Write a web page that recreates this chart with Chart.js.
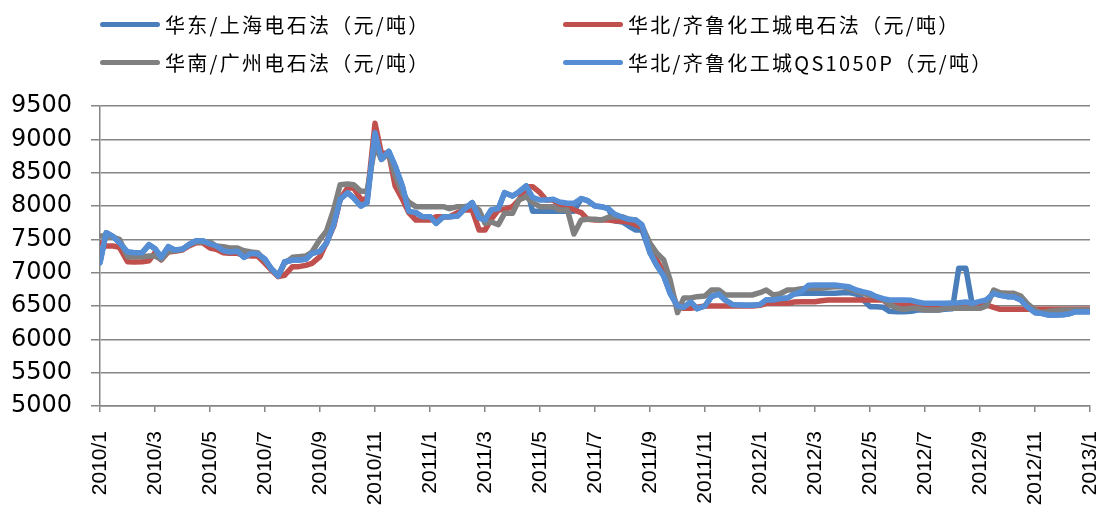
<!DOCTYPE html>
<html>
<head>
<meta charset="utf-8">
<script src="https://cdn.jsdelivr.net/npm/chart.js@4/dist/chart.umd.min.js"></script>
<style>
  html, body { margin: 0; padding: 0; background: #fff; }
  #wrap { position: relative; width: 1118px; height: 505px; }
  .legend-item { position: absolute; height: 40px; display: flex; align-items: center;
    font-family: "Noto Sans CJK SC", sans-serif; font-size: 20px; letter-spacing: 2.3px; color: #000; white-space: nowrap; }
  .legend-item .swatch { display: inline-block; width: 60px; height: 5px; border-radius: 3px; margin-right: 5px; }
</style>
</head>
<body>
<div id="wrap">
  <canvas id="chart" width="1118" height="505"></canvas>
</div>
<script>
// Sampling grid: roughly weekly price quotes, 2010/1 .. 2013/1
const sampleDays = [1, 8, 16, 23];
const startYear = 2010;
const monthCount = 36;

// Series names (legend order: row 1 left, row 1 right, row 2 left, row 2 right)
const seriesNames = [
  '华东/上海电石法（元/吨）',
  '华北/齐鲁化工城电石法（元/吨）',
  '华南/广州电石法（元/吨）',
  '华北/齐鲁化工城QS1050P（元/吨）'
];

// 华东/上海电石法
const huadong = [
  7150, 7600, 7540, 7450, 7310, 7300, 7300, 7420, 7360, 7230,
  7390, 7340, 7350, 7420, 7480, 7480, 7430, 7400, 7330, 7310,
  7320, 7230, 7290, 7280, 7200, 7060, 6950, 7160, 7190, 7190,
  7200, 7290, 7320, 7440, 7720, 8100, 8200, 8120, 8000, 8050,
  9100, 8700, 8820, 8600, 8290, 7920, 7900, 7840, 7840, 7740,
  7840, 7840, 7850, 7950, 8050, 7820, 7790, 7940, 7960, 8200,
  8150, 8210, 8300, 7920, 7920, 7920, 7920, 7920, 7920, 7920,
  8110, 8080, 8000, 7990, 7960, 7780, 7760, 7700, 7640, 7640,
  7300, 7120, 6950, 6690, 6500, 6480, 6560, 6460, 6500, 6640,
  6680, 6590, 6520, 6515, 6510, 6510, 6520, 6590, 6590, 6610,
  6620, 6680, 6690, 6690, 6690, 6690, 6690, 6690, 6700, 6700,
  6680, 6600, 6490, 6490, 6480, 6420, 6415, 6415, 6420, 6440,
  6440, 6440, 6440, 6450, 6460, 7065, 7065, 6540, 6540, 6590,
  6690, 6660, 6640, 6640, 6590, 6490, 6400, 6390, 6365, 6365,
  6370, 6380, 6415, 6415, 6415
];

// 华北/齐鲁化工城电石法
const huabei = [
  7450, 7400, 7400, 7380, 7165, 7160, 7165, 7180, 7300, 7190,
  7310, 7320, 7340, 7400, 7450, 7450, 7370, 7350, 7300, 7290,
  7290, 7260, 7250, 7250, 7140, 7040, 6940, 6960, 7090, 7090,
  7110, 7140, 7240, 7450, 7700, 8100, 8270, 8270, 8100, 8100,
  9240, 8790, 8790, 8300, 8100, 7900, 7790, 7790, 7790, 7840,
  7840, 7840, 7900, 7940, 7940, 7640, 7640, 7800, 7940, 7950,
  7990, 8090, 8290, 8290, 8200, 8090, 8090, 8000, 8000, 7940,
  7900, 7800, 7790, 7790, 7790, 7780, 7770, 7760, 7720, 7680,
  7400, 7200, 7000, 6790, 6480, 6465, 6465, 6480, 6500, 6500,
  6500, 6500, 6500, 6500, 6500, 6500, 6510, 6540, 6540, 6540,
  6540, 6560, 6565, 6565, 6565, 6580, 6590, 6590, 6590, 6590,
  6590, 6590, 6590, 6590, 6590, 6515, 6515, 6515, 6515, 6515,
  6515, 6515, 6515, 6515, 6515, 6515, 6515, 6515, 6515, 6515,
  6480, 6450, 6450, 6450, 6450, 6450, 6450, 6450, 6450, 6450,
  6450, 6450, 6450, 6450, 6450
];

// 华南/广州电石法
const huanan = [
  7550, 7550, 7530, 7500, 7240, 7240, 7240, 7250, 7250, 7200,
  7320, 7330, 7350, 7420, 7460, 7460, 7460, 7400, 7390, 7370,
  7370, 7330, 7310, 7300, 7180, 7060, 6960, 7140, 7230, 7240,
  7250, 7310, 7500, 7620, 7950, 8320, 8330, 8320, 8220, 8220,
  8900, 8700, 8790, 8450, 8190, 8060, 7990, 7990, 7990, 7990,
  7990, 7960, 7990, 7990, 8010, 7940, 7740, 7760, 7720, 7890,
  7890, 8090, 8140, 8050, 7990, 7990, 7990, 7940, 7940, 7580,
  7790, 7800, 7800, 7790, 7830, 7840, 7840, 7800, 7790, 7700,
  7440, 7300, 7190, 6890, 6400, 6620, 6620, 6640, 6650, 6740,
  6740, 6665, 6665, 6665, 6665, 6665, 6700, 6740, 6665, 6680,
  6740, 6740, 6760, 6765, 6765, 6765, 6780, 6790, 6790, 6760,
  6720, 6690, 6660, 6640, 6600, 6520, 6465, 6450, 6465, 6465,
  6440, 6440, 6440, 6465, 6465, 6465, 6465, 6465, 6465, 6500,
  6740, 6700, 6690, 6690, 6650, 6540, 6440, 6400, 6420, 6430,
  6440, 6440, 6440, 6440, 6440
];

// 华北/齐鲁化工城QS1050P
const qs1050p = [
  7150, 7600, 7540, 7450, 7310, 7300, 7300, 7420, 7360, 7230,
  7390, 7340, 7350, 7420, 7480, 7480, 7430, 7400, 7330, 7310,
  7320, 7230, 7290, 7280, 7200, 7060, 6950, 7160, 7190, 7190,
  7200, 7290, 7320, 7440, 7720, 8100, 8200, 8120, 8000, 8050,
  9100, 8700, 8820, 8600, 8290, 7920, 7900, 7840, 7840, 7740,
  7840, 7840, 7850, 7950, 8050, 7820, 7790, 7940, 7960, 8200,
  8150, 8210, 8300, 8130, 8090, 8090, 8100, 8060, 8040, 8040,
  8110, 8080, 8000, 7990, 7960, 7880, 7830, 7800, 7790, 7720,
  7300, 7120, 6950, 6690, 6500, 6480, 6560, 6460, 6500, 6640,
  6680, 6590, 6520, 6515, 6510, 6510, 6520, 6590, 6590, 6610,
  6620, 6680, 6720, 6810, 6815, 6815, 6815, 6815, 6800, 6790,
  6740, 6715, 6690, 6640, 6610, 6590, 6590, 6590, 6585, 6560,
  6540, 6540, 6540, 6540, 6545, 6550, 6560, 6540, 6570, 6590,
  6690, 6660, 6640, 6640, 6590, 6490, 6400, 6390, 6365, 6365,
  6370, 6380, 6415, 6415, 6415
];

const seriesColors = ['#4A7EBB', '#C0504D', '#808080', '#558ED5'];
// Excel stacking: QS1050P on top, 华东 at the bottom
const drawOrder = [3, 2, 1, 0];

/**
 * Build the list of sample dates as month offsets from 2010/1
 * @returns {number[]} x positions (months since start)
 */
function buildSampleMonths() {
  const out = [];
  for (let m = 0; m < monthCount; m++) {
    const year = startYear + Math.floor(m / 12);
    const month = m % 12;
    const daysInMonth = new Date(year, month + 1, 0).getDate();
    sampleDays.forEach(d => out.push(m + (d - 1) / daysInMonth));
  }
  out.push(monthCount);
  return out;
}

const sampleMonths = buildSampleMonths();
const allSeries = [huadong, huabei, huanan, qs1050p];

const datasets = allSeries.map((values, i) => ({
  label: seriesNames[i],
  data: values.map((v, j) => ({ x: sampleMonths[j], y: v })),
  borderColor: seriesColors[i],
  backgroundColor: seriesColors[i],
  borderWidth: 5.5,
  pointRadius: 0,
  tension: 0,
  borderCapStyle: 'round',
  borderJoinStyle: 'round',
  order: drawOrder[i]
}));

const gridColor = '#868686';

new Chart(document.getElementById('chart'), {
  type: 'line',
  data: { datasets },
  options: {
    responsive: false,
    animation: false,
    devicePixelRatio: 1,
    layout: { padding: { top: 106, right: 28, left: 0, bottom: 0 } },
    plugins: {
      legend: { display: false },
      tooltip: { enabled: false }
    },
    scales: {
      x: {
        type: 'linear',
        min: 0,
        max: monthCount,
        afterFit: axis => {
          // fixed box so the plot spans 100..1090 like the original
          axis.height = 99;
          axis.paddingLeft = 0;
          axis.paddingRight = 0;
        },
        ticks: {
          stepSize: 2,
          autoSkip: false,
          maxRotation: 90,
          minRotation: 90,
          padding: 19,
          color: '#000',
          font: { family: 'Liberation Sans', size: 21 },
          callback: v => (startYear + Math.floor(v / 12)) + '/' + (v % 12 + 1)
        },
        grid: { drawOnChartArea: false, tickLength: 6, color: gridColor, lineWidth: 1.5 },
        border: { color: gridColor, width: 1.5 }
      },
      y: {
        min: 5000,
        max: 9500,
        afterFit: axis => { axis.width = 100; },
        ticks: {
          stepSize: 500,
          padding: 19,
          color: '#000',
          font: { family: 'DejaVu Sans', size: 24 },
          callback: v => String(v)
        },
        grid: { color: gridColor, lineWidth: 1.5, tickLength: 9 },
        border: { color: gridColor, width: 1.5 }
      }
    }
  }
});

// Legend drawn as HTML, two columns like the original
const legendPos = [[100, 4], [563, 4], [100, 42], [563, 42]];
const wrap = document.getElementById('wrap');
seriesNames.forEach((name, i) => {
  const item = document.createElement('div');
  item.className = 'legend-item';
  item.style.left = legendPos[i][0] + 'px';
  item.style.top = legendPos[i][1] + 'px';
  item.innerHTML = '<span class="swatch" style="background:' + seriesColors[i] + '"></span>' + name;
  wrap.appendChild(item);
});
</script>
</body>
</html>
